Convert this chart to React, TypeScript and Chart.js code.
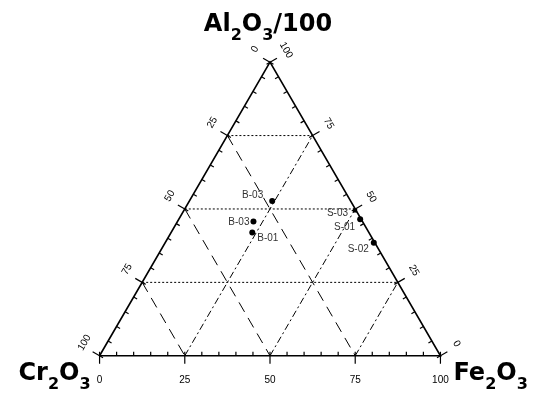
import React, { useEffect, useRef } from 'react';
import { Chart, registerables } from 'chart.js';

Chart.register(...registerables);

// ---- data (percent compositions) ----
const sampleNames = ['B-03', 'B-03', 'B-01', 'S-03', 'S-01', 'S-02'];
const sampleCr2O3 = [23.0, 32.0, 34.2, 0.3, 0.3, 0.3];
const sampleAl2O3 = [52.7, 45.7, 42.0, 49.5, 46.5, 38.5];
const sampleFe2O3 = [24.3, 22.3, 23.8, 50.2, 53.2, 61.2];
const sampleMarkers = ['circle', 'circle', 'circle', 'rect', 'circle', 'circle'];

const gridLevels = [25, 50, 75];
const majorTicks = [0, 25, 50, 75, 100];
const minorTicks = [5, 10, 15, 20, 30, 35, 40, 45, 55, 60, 65, 70, 80, 85, 90, 95];

// label placement (pixel offsets from the marker, style only)
const labelDx = [-9, -4, 5, -7, -5, -5];
const labelDy = [-6, 1, 6, 3, 8, 7];
const labelAlign: CanvasTextAlign[] = ['right', 'right', 'left', 'right', 'right', 'right'];

const SQ = Math.sqrt(3) / 2;
function tern(cr: number, al: number, fe: number) {
  const s = cr + al + fe;
  const a = (al / s) * 100;
  const f = (fe / s) * 100;
  return { x: f + a / 2, y: a * SQ };
}

function drawRich(ctx: CanvasRenderingContext2D, segs: [string, boolean][], x: number, y: number, align: 'left' | 'right' | 'center') {
  const big = 'bold 24px "DejaVu Sans", sans-serif';
  const small = 'bold 16px "DejaVu Sans", sans-serif';
  let w = 0;
  segs.forEach(([t, sub]) => { ctx.font = sub ? small : big; w += ctx.measureText(t).width; });
  let cx = align === 'left' ? x : align === 'right' ? x - w : x - w / 2;
  ctx.textAlign = 'left';
  ctx.textBaseline = 'alphabetic';
  segs.forEach(([t, sub]) => {
    ctx.font = sub ? small : big;
    ctx.fillText(t, cx, sub ? y + 9 : y);
    cx += ctx.measureText(t).width;
  });
}

const overlay = {
  id: 'ternaryOverlay',
  afterDatasetsDraw(chart: any) {
    const { ctx } = chart;
    const xs = chart.scales.x;
    const ys = chart.scales.y;
    const P = (cr: number, al: number, fe: number) => {
      const c = tern(cr, al, fe);
      return [xs.getPixelForValue(c.x), ys.getPixelForValue(c.y)];
    };
    ctx.save();
    ctx.strokeStyle = '#000';
    ctx.fillStyle = '#000';
    ctx.lineWidth = 1.2;
    const edges = [
      { point: (v: number) => P(100 - v, 0, v), n: [0, -1], off: [0, 24], rot: 0 },
      { point: (v: number) => P(v, 100 - v, 0), n: [0.866, 0.5], off: [-15, -13], rot: -Math.PI / 3 },
      { point: (v: number) => P(0, v, 100 - v), n: [-0.866, 0.5], off: [16, -12], rot: Math.PI / 3 },
    ];
    edges.forEach((e) => {
      minorTicks.forEach((v) => {
        const [px, py] = e.point(v);
        ctx.beginPath();
        ctx.moveTo(px, py);
        ctx.lineTo(px + e.n[0] * 4, py + e.n[1] * 4);
        ctx.stroke();
      });
      majorTicks.forEach((v) => {
        const [px, py] = e.point(v);
        ctx.beginPath();
        ctx.moveTo(px + e.n[0] * 4, py + e.n[1] * 4);
        ctx.lineTo(px - e.n[0] * 8, py - e.n[1] * 8);
        ctx.stroke();
        ctx.save();
        ctx.translate(px + e.off[0], py + e.off[1]);
        ctx.rotate(e.rot);
        ctx.font = '10px "Liberation Sans", Arial, sans-serif';
        ctx.textAlign = 'center';
        ctx.textBaseline = 'middle';
        ctx.fillText(String(v), 0, 0);
        ctx.restore();
      });
    });
    // sample labels
    ctx.font = '10px "Liberation Sans", Arial, sans-serif';
    ctx.fillStyle = '#333';
    ctx.textBaseline = 'middle';
    sampleNames.forEach((name, i) => {
      const [px, py] = P(sampleCr2O3[i], sampleAl2O3[i], sampleFe2O3[i]);
      ctx.textAlign = labelAlign[i];
      ctx.fillText(name, px + labelDx[i], py + labelDy[i]);
    });
    // vertex titles
    ctx.fillStyle = '#000';
    const top = P(0, 100, 0);
    const left = P(100, 0, 0);
    const right = P(0, 0, 100);
    drawRich(ctx, [['Al', false], ['2', true], ['O', false], ['3', true], ['/100', false]], top[0] - 2, top[1] - 31, 'center');
    drawRich(ctx, [['Cr', false], ['2', true], ['O', false], ['3', true]], left[0] - 9, left[1] + 24, 'right');
    drawRich(ctx, [['Fe', false], ['2', true], ['O', false], ['3', true]], right[0] + 13, right[1] + 24, 'left');
    ctx.restore();
  },
};

export default function App() {
  const ref = useRef<HTMLCanvasElement>(null);
  useEffect(() => {
    document.body.style.margin = '0';
    const line = (pts: { x: number; y: number }[], dash: number[], width = 1) => ({
      type: 'line' as const,
      data: pts,
      showLine: true,
      borderColor: '#000',
      borderWidth: width,
      borderDash: dash,
      pointRadius: 0,
      fill: false,
      tension: 0,
    });
    const datasets: any[] = [];
    datasets.push(line([tern(100, 0, 0), tern(0, 0, 100), tern(0, 100, 0), tern(100, 0, 0)], [], 1.6));
    gridLevels.forEach((a) => datasets.push(line([tern(100 - a, a, 0), tern(0, a, 100 - a)], [2, 2])));
    gridLevels.forEach((c) => datasets.push(line([tern(c, 100 - c, 0), tern(c, 0, 100 - c)], [11, 7])));
    gridLevels.forEach((f) => datasets.push(line([tern(100 - f, 0, f), tern(0, 100 - f, f)], [7, 3, 2, 3])));
    datasets.push({
      type: 'scatter',
      data: sampleNames.map((_, i) => tern(sampleCr2O3[i], sampleAl2O3[i], sampleFe2O3[i])),
      pointRadius: 3,
      pointStyle: sampleMarkers,
      backgroundColor: '#000',
      borderColor: '#000',
      borderWidth: 0,
    });
    const k = 3.46;
    const chart = new Chart(ref.current!, {
      type: 'scatter',
      data: { datasets },
      options: {
        responsive: false,
        animation: false,
        layout: { padding: 0 },
        plugins: { legend: { display: false }, tooltip: { enabled: false } },
        scales: {
          x: { type: 'linear', display: false, min: -97 / k, max: (540 - 97) / k },
          y: { type: 'linear', display: false, min: -(397 - 359) / k, max: 359 / k },
        },
      },
      plugins: [overlay],
    });
    return () => chart.destroy();
  }, []);
  return <canvas ref={ref} width={540} height={397} style={{ display: 'block' }} />;
}
